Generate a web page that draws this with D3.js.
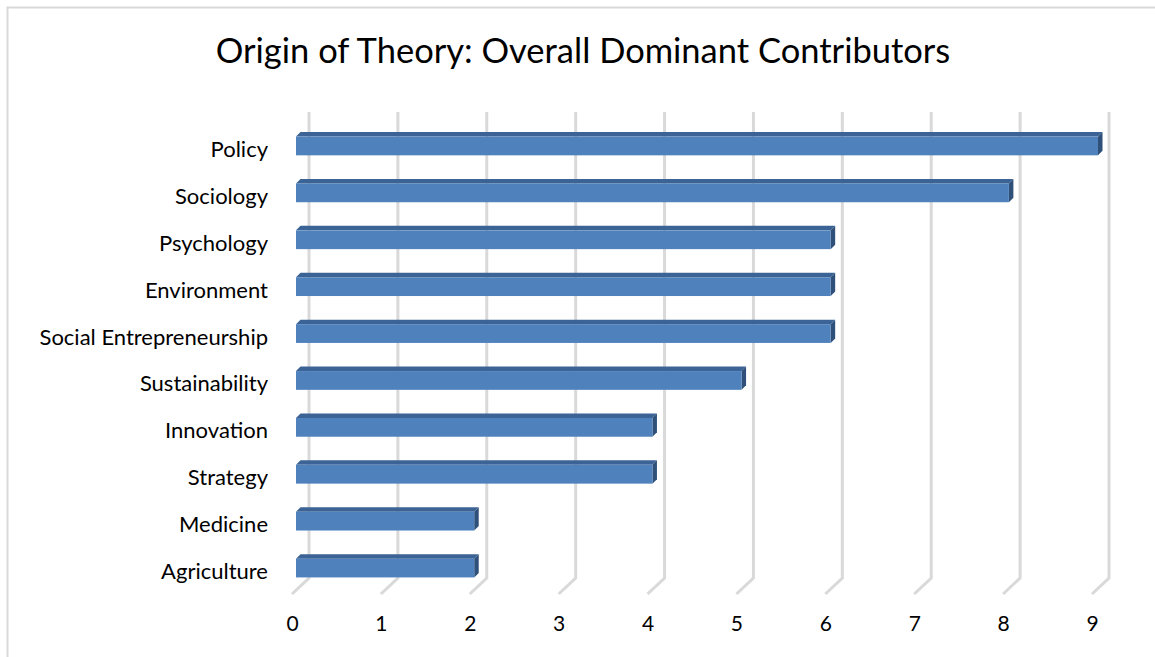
<!DOCTYPE html>
<html>
<head>
<meta charset="utf-8">
<script src="https://cdn.jsdelivr.net/npm/d3@7"></script>
<style>
  body { margin: 0; background: #fff; }
  svg text { font-family: Lato, "Open Sans", sans-serif; fill: #000; }
</style>
</head>
<body>
<div id="chart"></div>
<script>
var categories = ["Policy", "Sociology", "Psychology", "Environment", "Social Entrepreneurship",
                  "Sustainability", "Innovation", "Strategy", "Medicine", "Agriculture"];
var values = [9, 8, 6, 6, 6, 5, 4, 4, 2, 2];
var tickValues = [0, 1, 2, 3, 4, 5, 6, 7, 8, 9];
var chartTitle = "Origin of Theory: Overall Dominant Contributors";

var width = 1155;
var height = 657;

// 3d look: back wall -> front edge offset
var depthX = -17, depthY = 16;
var barDepth = 4.5;

var svg = d3.select("#chart").append("svg")
    .attr("width", width)
    .attr("height", height);

// chart area border
svg.append("rect")
    .attr("x", 7.5)
    .attr("y", 7.5)
    .attr("width", width + 20)
    .attr("height", height + 20)
    .attr("fill", "#fff")
    .attr("stroke", "#d9d9d9")
    .attr("stroke-width", 2);

svg.append("text")
    .attr("x", 583)
    .attr("y", 63)
    .attr("text-anchor", "middle")
    .attr("font-size", "34.5px")
    .text(chartTitle);

var xBack = d3.scaleLinear().domain([0, 9]).range([309, 1109]);
var xFront = d3.scaleLinear().domain([0, 9]).range([296, 1098]);
var xTick = d3.scaleLinear().domain([0, 9]).range([309 + depthX, 1109 + depthX]);

var y = d3.scaleBand()
    .domain(categories)
    .range([122.5, 591.5])
    .paddingInner(0.6)
    .paddingOuter(0.3);

var gridTop = 112, gridBottom = 578;

// gridlines: back wall + floor
svg.append("g").selectAll("path")
    .data(tickValues)
    .enter().append("path")
    .attr("d", function(d) {
        var x = xBack(d);
        return "M" + x + "," + gridTop + "L" + x + "," + gridBottom +
               "L" + (x + depthX) + "," + (gridBottom + depthY);
    })
    .attr("fill", "none")
    .attr("stroke", "#d9d9d9")
    .attr("stroke-width", 3);

// bars
var bars = svg.append("g").selectAll("g")
    .data(categories)
    .enter().append("g");

bars.append("path")  // top face
    .attr("d", function(d, i) {
        var x0 = xFront(0), x1 = xFront(values[i]), y0 = y(d);
        return "M" + x0 + "," + y0 + "L" + (x0 + barDepth) + "," + (y0 - barDepth) +
               "L" + (x1 + barDepth) + "," + (y0 - barDepth) + "L" + x1 + "," + y0 + "Z";
    })
    .attr("fill", "#3b6396");

bars.append("path")  // side face
    .attr("d", function(d, i) {
        var x1 = xFront(values[i]), y0 = y(d), y1 = y0 + y.bandwidth();
        return "M" + x1 + "," + y0 + "L" + (x1 + barDepth) + "," + (y0 - barDepth) +
               "L" + (x1 + barDepth) + "," + (y1 - barDepth) + "L" + x1 + "," + y1 + "Z";
    })
    .attr("fill", "#2e5079");

bars.append("rect")  // front face
    .attr("x", xFront(0))
    .attr("y", function(d) { return y(d); })
    .attr("width", function(d, i) { return xFront(values[i]) - xFront(0); })
    .attr("height", y.bandwidth())
    .attr("fill", "#4f81bd");

// category labels
svg.append("g").selectAll("text")
    .data(categories)
    .enter().append("text")
    .attr("x", 268)
    .attr("y", function(d) { return y(d) + y.bandwidth() / 2 + 11; })
    .attr("text-anchor", "end")
    .attr("font-size", "22px")
    .text(function(d) { return d; });

// value axis
var axis = svg.append("g")
    .attr("transform", "translate(0,613)")
    .call(d3.axisBottom(xTick).tickValues(tickValues).tickSize(0).tickFormat(d3.format("d")));
axis.select(".domain").remove();
axis.selectAll("text")
    .attr("font-size", "21px")
    .style("font-family", "Lato, 'Open Sans', sans-serif");
</script>
</body>
</html>
